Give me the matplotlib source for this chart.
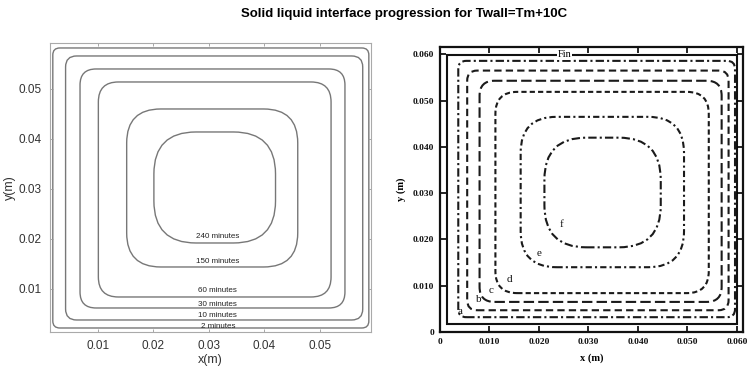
import matplotlib
matplotlib.use("Agg")
import matplotlib.pyplot as plt
from matplotlib.patches import FancyBboxPatch, Rectangle

# left panel: simulated interface contours (bounds in m)
sim_labels = ["2 minutes", "10 minutes", "30 minutes", "60 minutes", "150 minutes", "240 minutes"]
sim_x0 = [0.0019, 0.0042, 0.0068, 0.0101, 0.0152, 0.0201]
sim_x1 = [0.0588, 0.0577, 0.0545, 0.0520, 0.0460, 0.0420]
sim_y0 = [0.0022, 0.0038, 0.0062, 0.0084, 0.0144, 0.0192]
sim_y1 = [0.0582, 0.0566, 0.0540, 0.0514, 0.0460, 0.0414]
sim_label_y = [0.0024, 0.0047, 0.0068, 0.0097, 0.0155, 0.0204]
sim_label_x = 0.0316

# right panel: reference interface contours a-f
ref_labels = ["a", "b", "c", "d", "e", "f"]
ref_x0 = [0.0037, 0.0055, 0.0080, 0.0112, 0.0163, 0.0211]
ref_x1 = [0.0596, 0.0583, 0.0569, 0.0543, 0.0493, 0.0446]
ref_y0 = [0.0032, 0.0047, 0.0065, 0.0084, 0.0140, 0.0183]
ref_y1 = [0.0586, 0.0565, 0.0543, 0.0519, 0.0465, 0.0420]
ref_label_x = [0.0040, 0.0079, 0.0104, 0.0141, 0.0201, 0.0245]
ref_label_y = [0.0044, 0.0070, 0.0089, 0.0114, 0.0170, 0.0233]
fin_box = (0.0014, 0.0017, 0.0600, 0.0599)

sim_ticks = [0.01, 0.02, 0.03, 0.04, 0.05]
ref_ticks = [0, 0.010, 0.020, 0.030, 0.040, 0.050, 0.060]
ref_ticklabels = ["0", "0.010", "0.020", "0.030", "0.040", "0.050", "0.060"]

sans = ["Liberation Sans", "DejaVu Sans"]
serif = ["Liberation Serif", "DejaVu Serif"]

fig = plt.figure(figsize=(7.49, 3.75), dpi=100)
fig.text(0.54, 0.962, "Solid liquid interface progression for Twall=Tm+10C",
         ha="center", va="center", fontsize=9.5, fontweight="bold", family=sans)

# ---- left panel
ax1 = fig.add_axes([0.0668, 0.1147, 0.4286, 0.7707])
ax1.set_xlim(0.0014, 0.0592)
ax1.set_ylim(0.0014, 0.0592)
sim_radius = [7, 11, 16, 20, 34, 42]  # corner size in px
for i in range(len(sim_labels)):
    r = sim_radius[i] / 5550
    box = FancyBboxPatch((sim_x0[i], sim_y0[i]), sim_x1[i] - sim_x0[i], sim_y1[i] - sim_y0[i],
                         boxstyle=f"round,pad=0,rounding_size={r}", mutation_aspect=1.11,
                         fill=False, ec="#777777", lw=1.0)
    ax1.add_patch(box)
    ax1.text(sim_label_x, sim_label_y[i], sim_labels[i], ha="center", va="center",
             fontsize=5.8, color="#222222", family=sans)
ax1.set_xticks(sim_ticks)
ax1.set_yticks(sim_ticks)
ax1.set_xticklabels([f"{t:.2f}" for t in sim_ticks])
ax1.set_yticklabels([f"{t:.2f}" for t in sim_ticks])
ax1.tick_params(direction="in", length=2.5, width=0.6, color="#999999", top=True, right=True,
                labelsize=8.5, labelcolor="#333333", pad=6)
for lab in ax1.get_xticklabels() + ax1.get_yticklabels():
    lab.set_family(sans)
for s in ax1.spines.values():
    s.set_color("#aaaaaa")
    s.set_linewidth(0.8)
ax1.set_xlabel("x(m)", fontsize=9, color="#333333", family=sans, labelpad=1)
ax1.set_ylabel("y(m)", fontsize=9, color="#333333", family=sans, labelpad=2)

# ---- right panel
ax2 = fig.add_axes([0.5874, 0.1147, 0.4045, 0.76])
ax2.set_xlim(0.0004, 0.0612)
ax2.set_ylim(0.0002, 0.0616)
ref_radius = [8, 10, 15, 22, 36, 42]
ref_styles = [(0, (4, 1.5, 1, 1.5)), (0, (3.5, 2)), (0, (5, 2)), (0, (2.5, 1.5)),
              (0, (3, 1.5, 1, 1.5)), (0, (4, 1.5, 1, 1.5))]
for i in range(len(ref_labels)):
    r = ref_radius[i] / 4980
    box = FancyBboxPatch((ref_x0[i], ref_y0[i]), ref_x1[i] - ref_x0[i], ref_y1[i] - ref_y0[i],
                         boxstyle=f"round,pad=0,rounding_size={r}", mutation_aspect=1.073,
                         fill=False, ec="#1a1a1a", lw=1.5, ls=ref_styles[i])
    ax2.add_patch(box)
    ax2.text(ref_label_x[i], ref_label_y[i], ref_labels[i], ha="center", va="center",
             fontsize=8, color="#111111", family=serif)
ax2.add_patch(Rectangle((fin_box[0], fin_box[1]), fin_box[2] - fin_box[0], fin_box[3] - fin_box[1],
                        fill=False, ec="#111111", lw=1.5))
ax2.text(0.0251, fin_box[3], "Fin", ha="center", va="center", fontsize=7.5, family=serif,
         bbox=dict(fc="white", ec="none", pad=0.5))
ax2.set_xticks(ref_ticks)
ax2.set_yticks(ref_ticks)
ax2.set_xticklabels(ref_ticklabels)
ax2.set_yticklabels(ref_ticklabels)
ax2.tick_params(direction="in", length=4, width=1.2, top=True, right=True,
                labelsize=6.8, labelcolor="#111111", pad=4)
for lab in ax2.get_xticklabels() + ax2.get_yticklabels():
    lab.set_family(serif)
    lab.set_fontweight("bold")
for s in ax2.spines.values():
    s.set_color("#111111")
    s.set_linewidth(1.6)
ax2.set_xlabel("x (m)", fontsize=7.5, fontweight="bold", family=serif, labelpad=6)
ax2.set_ylabel("y (m)", fontsize=7.5, fontweight="bold", family=serif, labelpad=5)

fig.savefig("out.png", dpi=100)
